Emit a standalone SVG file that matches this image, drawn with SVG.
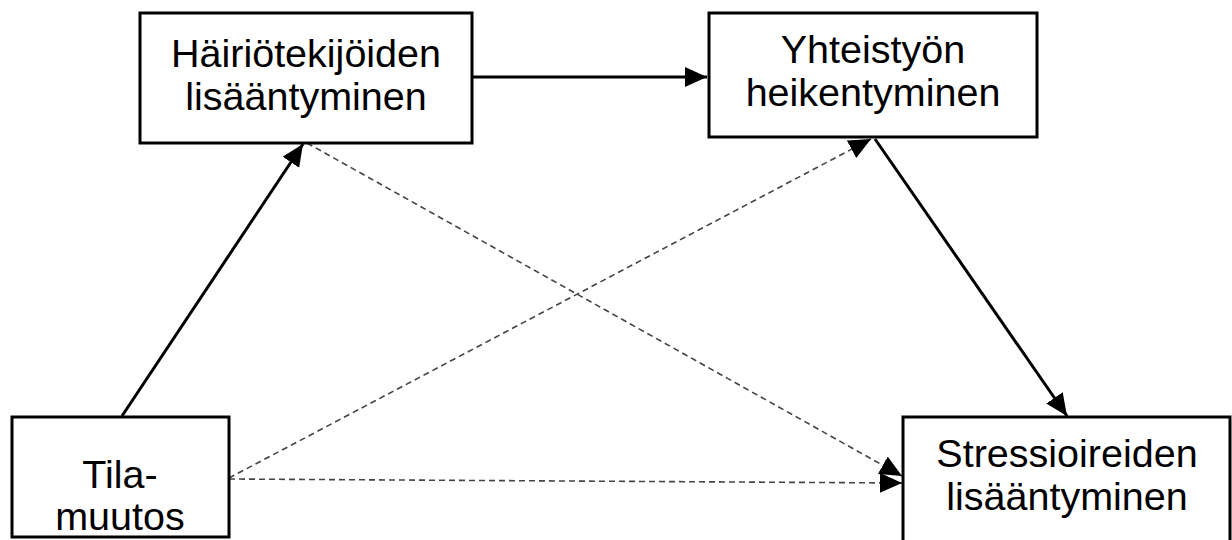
<svg xmlns="http://www.w3.org/2000/svg" width="1232" height="540" viewBox="0 0 1232 540">
<style>
.box{fill:#fff;stroke:#000;stroke-width:3}
.t{font-family:"Liberation Sans",Arial,sans-serif;font-size:39.5px;fill:#000;text-anchor:middle}
.solid{stroke:#000;stroke-width:3;fill:none}
.dash{stroke:#444;stroke-width:1.6;fill:none;stroke-dasharray:6 4}
</style>
<defs>
<marker id="ah" markerUnits="userSpaceOnUse" markerWidth="24" markerHeight="22" refX="22" refY="10" orient="auto">
<path d="M0,0 L22,10 L0,20 Z" fill="#000"/>
</marker>
</defs>
<rect width="1232" height="540" fill="#fff"/>
<g id="connectors">
<line class="solid" x1="472" y1="77" x2="707" y2="77" marker-end="url(#ah)"/>
<line class="solid" x1="122" y1="416" x2="303" y2="144" marker-end="url(#ah)"/>
<line class="solid" x1="875" y1="139" x2="1067" y2="416" marker-end="url(#ah)"/>
<line class="dash" x1="307" y1="143" x2="902" y2="476" marker-end="url(#ah)"/>
<line class="dash" x1="229" y1="479" x2="902" y2="483" marker-end="url(#ah)"/>
<line class="dash" x1="229" y1="478" x2="871" y2="139" marker-end="url(#ah)"/>
</g>
<g id="n1">
<rect class="box" x="140" y="13" width="332" height="130"/>
<text class="t" x="306" y="67">Häiriötekijöiden</text>
<text class="t" x="306" y="110">lisääntyminen</text>
</g>
<g id="n2">
<rect class="box" x="709" y="13" width="328" height="124"/>
<text class="t" x="873" y="63">Yhteistyön</text>
<text class="t" x="873" y="106">heikentyminen</text>
</g>
<g id="n3">
<rect class="box" x="12" y="417" width="217" height="120"/>
<text class="t" x="120" y="488">Tila-</text>
<text class="t" x="120" y="530">muutos</text>
</g>
<g id="n4">
<rect class="box" x="903" y="417" width="327" height="140"/>
<text class="t" x="1067" y="467">Stressioireiden</text>
<text class="t" x="1067" y="510">lisääntyminen</text>
</g>
</svg>
